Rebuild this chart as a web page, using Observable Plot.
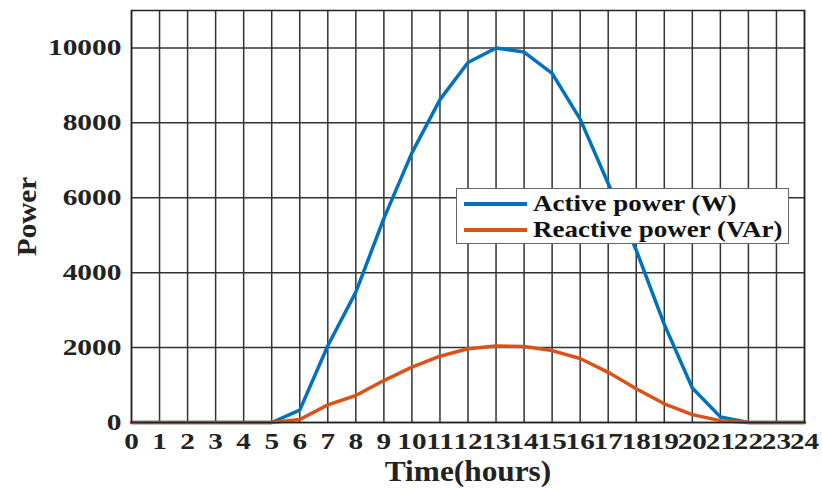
<!DOCTYPE html>
<html>
<head>
<meta charset="utf-8">
<script src="https://cdn.jsdelivr.net/npm/d3@7"></script>
<script src="https://cdn.jsdelivr.net/npm/@observablehq/plot@0.6"></script>
<style>
  html, body { margin: 0; padding: 0; background: #fff; }
  #wrap { position: relative; width: 822px; height: 489px; overflow: hidden; }
  #legend {
    position: absolute; left: 456px; top: 188px; width: 333px; height: 56px;
    box-sizing: border-box; border: 1px solid #666; background: #fff;
    font-family: "Liberation Serif", "Times New Roman", serif; font-weight: bold;
    font-size: 22.5px; color: #111;
  }
  .row { position: absolute; left: 0; height: 26px; width: 100%; }
  .sw { position: absolute; left: 7px; top: 11px; width: 63px; height: 4px; }
  .lt { position: absolute; left: 76px; top: 0px; white-space: nowrap; transform-origin: left center; transform: scaleX(1.2); line-height: 26px; }
</style>
</head>
<body>
<div id="wrap"></div>
<script>
const hours = [0,1,2,3,4,5,6,7,8,9,10,11,12,13,14,15,16,17,18,19,20,21,22,23,24];
const activePower = [0,0,0,0,0,0,330,2050,3480,5450,7200,8620,9610,10000,9890,9320,8100,6380,4600,2620,920,150,0,0,0];
const reactivePower = [0,0,0,0,0,0,80,470,720,1120,1480,1770,1970,2040,2030,1920,1710,1340,900,500,210,50,0,0,0];
const yTicks = [0,2000,4000,6000,8000,10000];
const seriesNames = ["Active power (W)", "Reactive power (VAr)"];
const seriesColors = ["#0072BD", "#D95319"];
const xLabel = "Time(hours)";
const yLabel = "Power";

const activeData = hours.map((h, i) => ({hour: h, value: activePower[i]}));
const reactiveData = hours.map((h, i) => ({hour: h, value: reactivePower[i]}));

const gridStyle = {stroke: "#333", strokeOpacity: 1, strokeWidth: 1.5};

const chart = Plot.plot({
  width: 822, height: 489,
  marginLeft: 131, marginRight: 18, marginTop: 10, marginBottom: 67,
  x: {domain: [0, 24], label: null},
  y: {domain: [0, 11000], label: null},
  style: {fontFamily: "'Liberation Serif', 'Times New Roman', serif", fontWeight: "bold", background: "#fff", color: "#222", overflow: "visible"},
  marks: [
    Plot.gridX(hours, gridStyle),
    Plot.gridY(yTicks, gridStyle),
    Plot.line(activeData, {x: "hour", y: "value", stroke: seriesColors[0], strokeWidth: 3.5, strokeLinejoin: "miter"}),
    Plot.line(reactiveData, {x: "hour", y: "value", stroke: seriesColors[1], strokeWidth: 3.5, strokeLinejoin: "miter"}),
    Plot.frame({stroke: "#222", strokeWidth: 1.5}),
    Plot.axisX(hours, {tickSize: 0, tickPadding: 10, fontSize: 23, label: null, tickFormat: d => String(d), fill: "#222"}),
    Plot.axisY(yTicks, {tickSize: 0, tickPadding: 10, fontSize: 23, label: null, tickFormat: d => String(d), fill: "#222"}),
    Plot.text([xLabel], {frameAnchor: "bottom", dy: 58, fontSize: 29, fill: "#222", text: d => d, textAnchor: "middle"}),
    Plot.text([yLabel], {frameAnchor: "left", dx: -104, rotate: -90, fontSize: 27, fill: "#222", text: d => d, textAnchor: "middle"})
  ]
});

const wrap = document.getElementById("wrap");
wrap.appendChild(chart);

function stretch(selector, factor) {
  chart.querySelectorAll(selector).forEach(t => {
    const w = t.getComputedTextLength();
    t.setAttribute("textLength", w * factor);
    t.setAttribute("lengthAdjust", "spacingAndGlyphs");
  });
}
stretch('[aria-label="x-axis tick label"] text', 1.27);
stretch('[aria-label="y-axis tick label"] text', 1.28);
stretch('[aria-label="text"] text', 1.08);

// Legend
const legend = document.createElement("div");
legend.id = "legend";
seriesNames.forEach((name, i) => {
  const row = document.createElement("div");
  row.className = "row";
  row.style.top = (2 + i * 26) + "px";
  const sw = document.createElement("div");
  sw.className = "sw";
  sw.style.background = seriesColors[i];
  const lt = document.createElement("div");
  lt.className = "lt";
  lt.textContent = name;
  row.appendChild(sw); row.appendChild(lt);
  legend.appendChild(row);
});
wrap.appendChild(legend);
</script>
</body>
</html>
